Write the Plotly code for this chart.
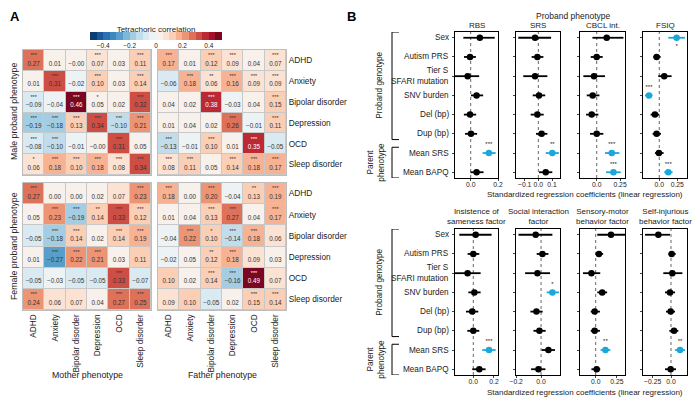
import math
import plotly.graph_objects as go

W, H = 700, 401
OFF = 8  # page body margin offset
FONT = "Arial, Liberation Sans, sans-serif"

# ---------------- Panel A data ----------------
phenos = ["ADHD", "Anxiety", "Bipolar disorder", "Depression", "OCD", "Sleep disorder"]

mm_vals = [[0.27, 0.01, -0.00, 0.07, 0.03, 0.11],
           [0.01, 0.31, -0.02, 0.10, 0.03, 0.14],
           [-0.09, -0.04, 0.46, 0.05, 0.02, 0.32],
           [-0.19, -0.18, 0.13, 0.34, -0.10, 0.21],
           [-0.08, -0.10, -0.01, -0.00, 0.31, 0.05],
           [0.06, 0.18, 0.10, 0.18, 0.08, 0.34]]
mm_sig = [["***", "", "", "***", "", "***"],
          ["", "***", "", "***", "", "***"],
          ["***", "", "***", "*", "", "***"],
          ["***", "***", "***", "***", "***", "***"],
          ["***", "***", "", "", "***", ""],
          ["*", "***", "***", "***", "***", "***"]]

mf_vals = [[0.17, 0.01, 0.12, 0.09, 0.04, 0.07],
           [-0.06, 0.18, 0.06, 0.16, 0.09, 0.09],
           [0.04, 0.02, 0.38, -0.03, 0.04, 0.15],
           [0.01, 0.04, 0.02, 0.26, -0.01, 0.11],
           [-0.13, -0.01, 0.10, 0.01, 0.35, -0.05],
           [0.08, 0.11, 0.05, 0.14, 0.18, 0.17]]
mf_sig = [["***", "", "***", "***", "", "***"],
          ["", "***", "**", "***", "***", "***"],
          ["", "", "***", "", "", "***"],
          ["", "", "", "***", "", "***"],
          ["***", "", "***", "", "***", ""],
          ["***", "***", "", "***", "***", "***"]]

fm_vals = [[0.27, 0.00, 0.00, 0.02, 0.07, 0.23],
           [0.05, 0.23, -0.19, 0.14, 0.33, 0.12],
           [-0.05, -0.18, 0.14, 0.02, 0.14, 0.19],
           [0.01, -0.27, 0.22, 0.21, 0.03, 0.11],
           [-0.05, -0.03, -0.05, -0.05, 0.33, -0.07],
           [0.24, 0.06, 0.07, 0.04, 0.27, 0.25]]
fm_sig = [["***", "", "", "", "", "***"],
          ["", "***", "***", "**", "***", "***"],
          ["", "***", "***", "", "***", "***"],
          ["", "***", "***", "***", "", ""],
          ["", "", "", "", "***", ""],
          ["***", "", "", "", "***", "***"]]

ff_vals = [[0.18, 0.00, 0.20, -0.04, 0.13, 0.19],
           [0.01, 0.04, 0.13, 0.27, 0.04, 0.17],
           [-0.04, 0.22, 0.10, -0.14, 0.18, 0.06],
           [-0.02, 0.05, 0.12, 0.18, 0.09, 0.03],
           [0.10, 0.02, 0.14, -0.16, 0.49, 0.07],
           [0.09, 0.10, -0.05, 0.02, 0.15, 0.14]]
ff_sig = [["***", "", "***", "", "**", "***"],
          ["", "", "***", "***", "", "***"],
          ["", "***", "*", "***", "***", ""],
          ["", "", "**", "***", "", ""],
          ["", "", "***", "***", "***", ""],
          ["", "", "", "", "***", "***"]]

# ---------------- Panel B data ----------------
predictors = ["Sex", "Autism PRS", "Tier S<br>SFARI mutation", "SNV burden",
              "Del (bp)", "Dup (bp)", "Mean SRS", "Mean BAPQ"]

rbs_est = [0.067, -0.005, -0.022, 0.043, -0.005, 0.002, 0.133, 0.043]
rbs_lo = [-0.054, -0.049, -0.14, 0.002, -0.050, -0.042, 0.087, -0.002]
rbs_hi = [0.176, 0.038, 0.062, 0.091, 0.040, 0.047, 0.183, 0.094]
rbs_sig = ["", "", "", "", "", "", "***", ""]

srs_est = [-0.024, -0.007, -0.024, 0.005, -0.007, 0.024, 0.102, 0.054]
srs_lo = [-0.146, -0.049, -0.110, -0.041, -0.056, -0.017, 0.054, 0.005]
srs_hi = [0.093, 0.037, 0.066, 0.050, 0.039, 0.066, 0.150, 0.102]
srs_sig = ["", "", "", "", "", "", "**", ""]

cbcl_est = [0.107, 0.0, -0.029, -0.043, -0.054, 0.0, 0.161, 0.179]
cbcl_lo = [-0.046, -0.064, -0.143, -0.107, -0.114, -0.071, 0.089, 0.100]
cbcl_hi = [0.286, 0.064, 0.089, 0.029, 0.018, 0.071, 0.243, 0.257]
cbcl_sig = ["", "", "", "", "", "", "***", "***"]

fsiq_est = [0.241, -0.037, 0.069, -0.143, -0.060, -0.037, -0.005, 0.125]
fsiq_lo = [0.125, -0.083, -0.014, -0.199, -0.120, -0.093, -0.060, 0.069]
fsiq_hi = [0.356, 0.019, 0.171, -0.093, 0.0, 0.023, 0.060, 0.185]
fsiq_sig = ["*", "", "", "***", "", "", "", "***"]

ins_est = [0.023, 0.0, -0.055, 0.010, -0.010, 0.0, 0.152, 0.058]
ins_lo = [-0.135, -0.055, -0.20, -0.048, -0.071, -0.058, 0.087, -0.010]
ins_hi = [0.177, 0.058, 0.071, 0.071, 0.048, 0.058, 0.216, 0.119]
ins_sig = ["", "", "", "", "", "", "***", ""]

soc_est = [-0.043, 0.011, -0.029, 0.091, -0.037, -0.013, 0.059, -0.021]
soc_lo = [-0.181, -0.035, -0.128, 0.045, -0.085, -0.061, 0.005, -0.080]
soc_hi = [0.091, 0.059, 0.072, 0.144, 0.013, 0.037, 0.112, 0.035]
soc_sig = ["", "", "", "*", "", "", "", ""]

sen_est = [0.181, 0.038, -0.050, 0.077, -0.012, -0.012, 0.115, 0.012]
sen_lo = [0.019, 0.0, -0.150, 0.019, -0.058, -0.058, 0.058, -0.050]
sen_hi = [0.40, 0.088, 0.054, 0.135, 0.050, 0.050, 0.173, 0.054]
sen_sig = ["", "", "", "", "", "", "**", ""]

sib_est = [-0.173, 0.009, 0.018, -0.014, -0.005, 0.041, 0.123, -0.005]
sib_lo = [-0.355, -0.036, -0.105, -0.082, -0.068, -0.023, 0.055, -0.082]
sib_hi = [-0.014, 0.064, 0.155, 0.055, 0.055, 0.100, 0.191, 0.068]
sib_sig = ["", "", "", "", "", "", "**", ""]

# ---------------- helpers ----------------
def px(x):
    return (x - OFF) / W


def py(y):
    return 1 - (y - OFF) / H


rdbu = ['#053061', '#2166AC', '#4393C3', '#92C5DE', '#D1E5F0', '#F7F7F7',
        '#FDDBC7', '#F4A582', '#D6604D', '#B2182B', '#67001F']


def hex2rgb(h):
    return tuple(int(h[i:i + 2], 16) for i in (1, 3, 5))


def interp(v):
    t = (v + 0.5) / 0.1
    i = max(0, min(9, int(math.floor(t))))
    f = t - i
    a, b = hex2rgb(rdbu[i]), hex2rgb(rdbu[i + 1])
    c = [round(a[k] + (b[k] - a[k]) * f) for k in range(3)]
    return "rgb(%d,%d,%d)" % tuple(c)


nb = 20
cs = []
for i in range(nb):
    centre = -0.5 + (i + 0.5) / nb
    col = interp(centre)
    cs.append([i / nb, col])
    cs.append([(i + 1) / nb, col])


def ann(text, x, y, size=8.5, color="#222", **kw):
    d = dict(text=text, x=x, y=y, xref="paper", yref="paper", showarrow=False,
             xanchor="center", yanchor="middle",
             font=dict(size=size, color=color, family=FONT))
    d.update(kw)
    return d


fig = go.Figure()
layout = {}
shapes = []
annotations = []

# ---------------- Panel A heatmaps ----------------
heat_specs = [
    (mm_vals, mm_sig, (23, 151), (50, 175), False, False),
    (mf_vals, mf_sig, (158, 286), (50, 175), True, False),
    (fm_vals, fm_sig, (23, 151), (183, 310), False, True),
    (ff_vals, ff_sig, (158, 286), (183, 310), True, True),
]
for k, (vals, sig, xd, yd, right_labels, bottom_labels) in enumerate(heat_specs):
    n = k + 1
    xa = "x" if n == 1 else "x%d" % n
    ya = "y" if n == 1 else "y%d" % n
    fig.add_trace(go.Heatmap(z=vals, x=list(range(6)), y=list(range(6)),
                             coloraxis="coloraxis", xgap=1, ygap=1,
                             xaxis=xa, yaxis=ya, hoverinfo="skip"))
    tx, ty_v, ty_s, tv, ts, tc = [], [], [], [], [], []
    for r in range(6):
        for c in range(6):
            v = vals[r][c]
            tx.append(c)
            ty_v.append(r + 0.17)
            ty_s.append(r - 0.22)
            s = "%.2f" % v
            tv.append(s.replace("-", "−"))
            ts.append(sig[r][c])
            tc.append("white" if abs(v) >= 0.35 else "#333333")
    fig.add_trace(go.Scatter(x=tx, y=ty_v, text=tv, mode="text", xaxis=xa, yaxis=ya,
                             textfont=dict(size=6.3, color=tc, family=FONT),
                             hoverinfo="skip", showlegend=False))
    fig.add_trace(go.Scatter(x=tx, y=ty_s, text=ts, mode="text", xaxis=xa, yaxis=ya,
                             textfont=dict(size=5.5, color=tc, family=FONT),
                             hoverinfo="skip", showlegend=False))
    key = "" if n == 1 else str(n)
    layout["xaxis" + key] = dict(domain=[px(xd[0]), px(xd[1])], anchor=ya,
                                 range=[-0.5, 5.5], showgrid=False, zeroline=False,
                                 showline=True, mirror=True, linecolor="#BDBDBD", linewidth=1,
                                 tickvals=list(range(6)), ticktext=phenos, automargin=False,
                                 showticklabels=bottom_labels, tickangle=-90, ticks="",
                                 tickfont=dict(size=8.3, color="#222", family=FONT))
    layout["yaxis" + key] = dict(domain=[py(yd[1]), py(yd[0])], anchor=xa,
                                 range=[5.5, -0.5], showgrid=False, zeroline=False,
                                 showline=True, mirror=True, linecolor="#BDBDBD", linewidth=1,
                                 tickvals=list(range(6)), ticktext=phenos, automargin=False,
                                 showticklabels=right_labels, side="right", ticks="",
                                 tickfont=dict(size=8.3, color="#222", family=FONT))
    shapes.append(dict(type="rect", xref=xa + " domain", yref=ya + " domain",
                       x0=0, x1=1, y0=0, y1=1, fillcolor="#C8C8C8",
                       line=dict(width=0), layer="below"))

layout["coloraxis"] = dict(
    colorscale=cs, cmin=-0.5, cmax=0.5,
    colorbar=dict(orientation="h", x=px(156), xanchor="center", y=py(35), yanchor="middle",
                  len=132, lenmode="pixels", thickness=8, outlinewidth=0, xpad=0, ypad=0,
                  title=dict(text="Tetrachoric correlation", side="top",
                             font=dict(size=8, color="#222", family=FONT)),
                  tickvals=[-0.4, -0.2, 0, 0.2, 0.4],
                  ticktext=["−0.4", "−0.2", "0", "0.2", "0.4"],
                  ticks="", tickfont=dict(size=6.5, color="#222", family=FONT)))

annotations += [
    ann("<b>A</b>", px(15), py(16.5), size=13, color="black"),
    ann("<b>B</b>", px(351), py(16.5), size=13, color="black"),
    ann("Male proband phenotype", px(14), py(112), size=8.8, textangle=-90),
    ann("Female proband phenotype", px(14), py(246), size=8.8, textangle=-90),
    ann("Mother phenotype", px(87), py(375), size=8.8),
    ann("Father phenotype", px(222), py(375), size=8.8),
]

# ---------------- Panel B forest plots ----------------
BLUE = "#1AA7D9"
panels = [
    ("RBS", rbs_est, rbs_lo, rbs_hi, rbs_sig, [-0.115, 0.2], [0.0, 0.2], ["0.0", "0.2"]),
    ("SRS", srs_est, srs_lo, srs_hi, srs_sig, [-0.163, 0.158], [-0.1, 0.0, 0.1], ["−0.1", "0.0", "0.1"]),
    ("CBCL int.", cbcl_est, cbcl_lo, cbcl_hi, cbcl_sig, [-0.179, 0.303], [0.0, 0.25], ["0.0", "0.25"]),
    ("FSIQ", fsiq_est, fsiq_lo, fsiq_hi, fsiq_sig, [-0.226, 0.385], [0.0, 0.25], ["0.0", "0.25"]),
    ("Insistence of<br>sameness factor", ins_est, ins_lo, ins_hi, ins_sig, [-0.177, 0.239], [0.0, 0.2], ["0.0", "0.2"]),
    ("Social interaction<br>factor", soc_est, soc_lo, soc_hi, soc_sig, [-0.201, 0.152], [-0.2, 0.0], ["−0.2", "0.0"]),
    ("Sensory-motor<br>behavior factor", sen_est, sen_lo, sen_hi, sen_sig, [-0.185, 0.346], [0.0, 0.25], ["0.0", "0.25"]),
    ("Self-injurious<br>behavior factor", sib_est, sib_lo, sib_hi, sib_sig, [-0.382, 0.218], [-0.25, 0.0], ["−0.25", "0.0"]),
]
col_x = [(455, 498), (516, 560), (580, 625), (643, 687)]
row_y = [(32, 178), (229, 375)]

for p, (title, est, lo, hi, sig, xr, tv, tt) in enumerate(panels):
    n = 5 + p
    xa, ya = "x%d" % n, "y%d" % n
    r, c = divmod(p, 4)
    xd, yd = col_x[c], row_y[r]
    rows = list(range(len(est)))
    for is_sig, color in ((False, "black"), (True, BLUE)):
        idx = [i for i in rows if (sig[i] != "") == is_sig]
        if not idx:
            continue
        fig.add_trace(go.Scatter(
            x=[est[i] for i in idx], y=idx, mode="markers", xaxis=xa, yaxis=ya,
            marker=dict(size=6.5, color=color),
            error_x=dict(type="data", symmetric=False,
                         array=[hi[i] - est[i] for i in idx],
                         arrayminus=[est[i] - lo[i] for i in idx],
                         color=color, thickness=1.8, width=0),
            hoverinfo="skip", showlegend=False))
    sidx = [i for i in rows if sig[i] != ""]
    if sidx:
        fig.add_trace(go.Scatter(
            x=[est[i] for i in sidx], y=[i + 0.45 if i == 0 else i - 0.42 for i in sidx],
            text=[sig[i] for i in sidx], mode="text", xaxis=xa, yaxis=ya,
            textfont=dict(size=6, color="#222", family=FONT),
            hoverinfo="skip", showlegend=False, cliponaxis=False))
    layout["xaxis%d" % n] = dict(domain=[px(xd[0]), px(xd[1])], anchor=ya, range=xr,
                                 showgrid=False, zeroline=False, showline=True, mirror=True,
                                 linecolor="black", linewidth=1, ticks="outside", ticklen=2,
                                 tickwidth=0.8, tickvals=tv, ticktext=tt, automargin=False,
                                 ticklabelstandoff=-2,
                                 tickfont=dict(size=6.8, color="#222", family=FONT))
    layout["yaxis%d" % n] = dict(domain=[py(yd[1]), py(yd[0])], anchor=xa, range=[7.3, -0.3],
                                 showgrid=False, zeroline=False, showline=True, mirror=True,
                                 linecolor="black", linewidth=1, ticks="outside", ticklen=2.5,
                                 tickwidth=0.8, tickvals=rows, showticklabels=False,
                                 automargin=False)
    shapes.append(dict(type="line", xref=xa, yref=ya + " domain", x0=0, x1=0, y0=0, y1=1,
                       line=dict(color="#555", width=0.9, dash="dot"), layer="below"))
    t_y = 26 if r == 0 else 217
    annotations.append(ann(title, (px(xd[0]) + px(xd[1])) / 2, py(t_y), size=8))
    if c == 0:
        for i, lab in enumerate(predictors):
            annotations.append(dict(text=lab, x=px(451), y=i, xref="paper", yref=ya,
                                    xanchor="right", yanchor="middle", align="right",
                                    showarrow=False,
                                    font=dict(size=8.2, color="#222", family=FONT)))
        for (y0, y1) in ((-0.3, 5.3), (5.7, 7.3)):
            shapes.append(dict(type="line", xref="paper", yref=ya, x0=px(392), x1=px(392),
                               y0=y0, y1=y1, line=dict(color="black", width=1)))
            for yy in (y0, y1):
                shapes.append(dict(type="line", xref="paper", yref=ya, x0=px(392), x1=px(399),
                                   y0=yy, y1=yy, line=dict(color="black", width=1)))
        annotations.append(dict(text="Proband genotype", x=px(380), y=2.5, xref="paper", yref=ya,
                                xanchor="center", yanchor="middle", showarrow=False,
                                textangle=-90, font=dict(size=8.2, color="#222", family=FONT)))
        annotations.append(dict(text="Parent<br>phenotype", x=px(376), y=6.5, xref="paper", yref=ya,
                                xanchor="center", yanchor="middle", showarrow=False,
                                textangle=-90, font=dict(size=8.2, color="#222", family=FONT)))

annotations += [
    ann("Proband phenotype", px(573), py(16), size=8.5),
    ann("Standardized regression coefficients (linear regression)", px(585), py(195), size=8),
    ann("Standardized regression coefficients (linear regression)", px(585), py(392), size=8),
]

fig.update_layout(width=W, height=H, margin=dict(l=0, r=0, t=0, b=0, autoexpand=False),
                  paper_bgcolor="white", plot_bgcolor="white", showlegend=False,
                  font=dict(family=FONT), shapes=shapes, annotations=annotations, **layout)
fig.write_html("out.html")
